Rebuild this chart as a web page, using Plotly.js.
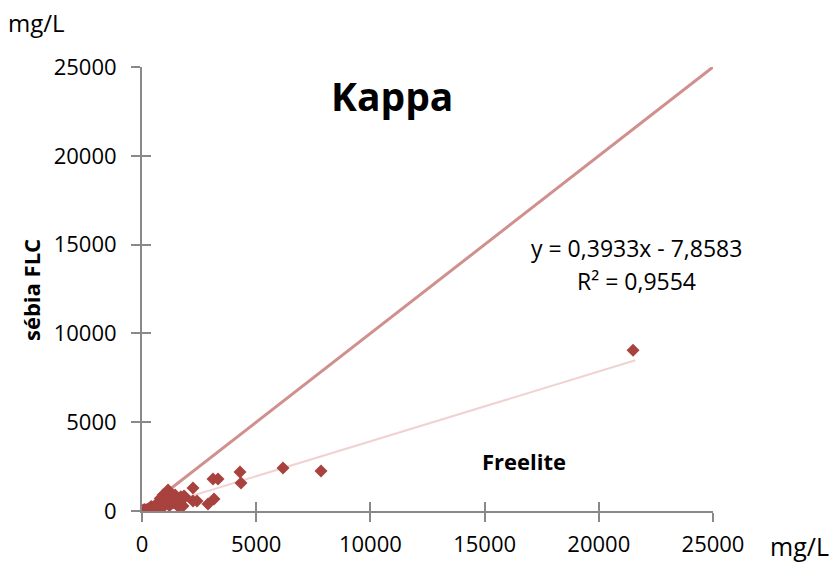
<!DOCTYPE html>
<html>
<head>
<meta charset="utf-8">
<script src="https://cdn.plot.ly/plotly-3.0.1.min.js"></script>
<style>html,body{margin:0;padding:0;background:#fff;}#chart{width:836px;height:562px;}</style>
</head>
<body>
<div id="chart"></div>
<script>
// Freelite (x) vs sébia FLC (y), mg/L
const freeliteX = [10,30,50,80,100,120,150,200,230,260,300,340,380,400,420,450,500,520,560,600,600,640,680,700,720,760,800,800,850,900,900,920,950,1000,1000,1050,1100,1140,1150,1200,1200,1250,1300,1350,1400,1450,1500,1550,1600,1650,1700,
  1795,1839,1883,2233,2233,2408,2890,3152,3109,3327,4291,4334,6173,7837,21500];
const sebiaY = [5,10,20,40,80,30,60,50,90,70,120,100,150,250,130,180,160,220,200,260,120,230,300,450,280,350,320,700,400,380,200,900,450,520,950,480,600,1180,650,560,300,720,800,450,600,900,380,700,250,520,800,
  282,845,788,1295,563,563,394,676,1802,1802,2196,1577,2421,2252,9050];

// Trendline as displayed on the chart
const trendSlope = 0.3933;
const trendIntercept = -7.8583;
const trendXRange = [0, 21600];
const trendY = trendXRange.map(x => trendSlope * x + trendIntercept);

// Identity line
const identityX = [0, 25000];
const identityY = [0, 25000];

const tickVals = [0, 5000, 10000, 15000, 20000, 25000];
const tickText = ['0', '5000', '10000', '15000', '20000', '25000'];

const FONT = 'Open Sans, sans-serif';
const axisGray = '#898989';

const traces = [
  {x: identityX, y: identityY, mode: 'lines', line: {color: '#D0908E', width: 3}, hoverinfo: 'skip'},
  {x: trendXRange, y: trendY, mode: 'lines', line: {color: '#F0D2D2', width: 2}, hoverinfo: 'skip'},
  {x: freeliteX, y: sebiaY, mode: 'markers', marker: {symbol: 'diamond', size: 10, color: '#A8423F'}},
  {x: [0], y: [0], xaxis: 'x2', yaxis: 'y2', mode: 'markers', marker: {opacity: 0}, hoverinfo: 'skip'}
];

const L = 142, R = 713, T = 67, B = 511;
const px = p => (p - L) / (R - L);
const py = p => (B - p) / (B - T);

const layout = {
  width: 836, height: 562,
  margin: {l: L, r: 836 - R, t: T, b: 562 - B},
  paper_bgcolor: '#fff', plot_bgcolor: '#fff',
  showlegend: false,
  font: {family: FONT, color: '#000'},
  xaxis: {
    range: [0, 25000], tickvals: tickVals, ticktext: tickText,
    showgrid: false, zeroline: false, showline: true, linecolor: axisGray, linewidth: 2,
    ticks: 'outside', ticklen: 9, tickwidth: 2, tickcolor: axisGray,
    tickfont: {family: FONT, size: 22, color: '#000'}, ticklabelstandoff: 4
  },
  yaxis: {
    range: [0, 25000], tickvals: tickVals, ticktext: tickText,
    showgrid: false, zeroline: false, showline: true, linecolor: axisGray, linewidth: 2,
    ticks: 'outside', ticklen: 9, tickwidth: 2, tickcolor: axisGray,
    tickfont: {family: FONT, size: 22, color: '#000'}, ticklabelstandoff: 10
  },
  xaxis2: {
    overlaying: 'x', anchor: 'y2', range: [0, 25000], tickvals: tickVals,
    showticklabels: false, showgrid: false, zeroline: false, showline: false,
    ticks: 'inside', ticklen: 9, tickwidth: 2, tickcolor: axisGray
  },
  yaxis2: {
    overlaying: 'y', anchor: 'x2', range: [0, 25000], tickvals: tickVals,
    showticklabels: false, showgrid: false, zeroline: false, showline: false,
    ticks: 'inside', ticklen: 9, tickwidth: 2, tickcolor: axisGray
  },
  annotations: [
    {text: '<b>Kappa</b>', xref: 'paper', yref: 'paper', x: px(392), y: py(95), xanchor: 'center', yanchor: 'middle', showarrow: false, font: {family: FONT, size: 39, color: '#000'}},
    {text: 'y = 0,3933x - 7,8583', xref: 'paper', yref: 'paper', x: px(636), y: py(248), xanchor: 'center', yanchor: 'middle', showarrow: false, font: {family: FONT, size: 23, color: '#000'}},
    {text: 'R² = 0,9554', xref: 'paper', yref: 'paper', x: px(636), y: py(281), xanchor: 'center', yanchor: 'middle', showarrow: false, font: {family: FONT, size: 23, color: '#000'}},
    {text: '<b>Freelite</b>', xref: 'paper', yref: 'paper', x: px(524), y: py(461), xanchor: 'center', yanchor: 'middle', showarrow: false, font: {family: FONT, size: 22, color: '#000'}},
    {text: '<b>sébia FLC</b>', xref: 'paper', yref: 'paper', x: px(31), y: py(290), xanchor: 'center', yanchor: 'middle', textangle: -90, showarrow: false, font: {family: FONT, size: 22, color: '#000'}},
    {text: 'mg/L', xref: 'paper', yref: 'paper', x: px(36), y: py(22), xanchor: 'center', yanchor: 'middle', showarrow: false, font: {family: FONT, size: 24, color: '#000'}},
    {text: 'mg/L', xref: 'paper', yref: 'paper', x: px(799), y: py(546), xanchor: 'center', yanchor: 'middle', showarrow: false, font: {family: FONT, size: 25, color: '#000'}}
  ]
};

Plotly.newPlot('chart', traces, layout, {displayModeBar: false, staticPlot: true});
</script>
</body>
</html>
